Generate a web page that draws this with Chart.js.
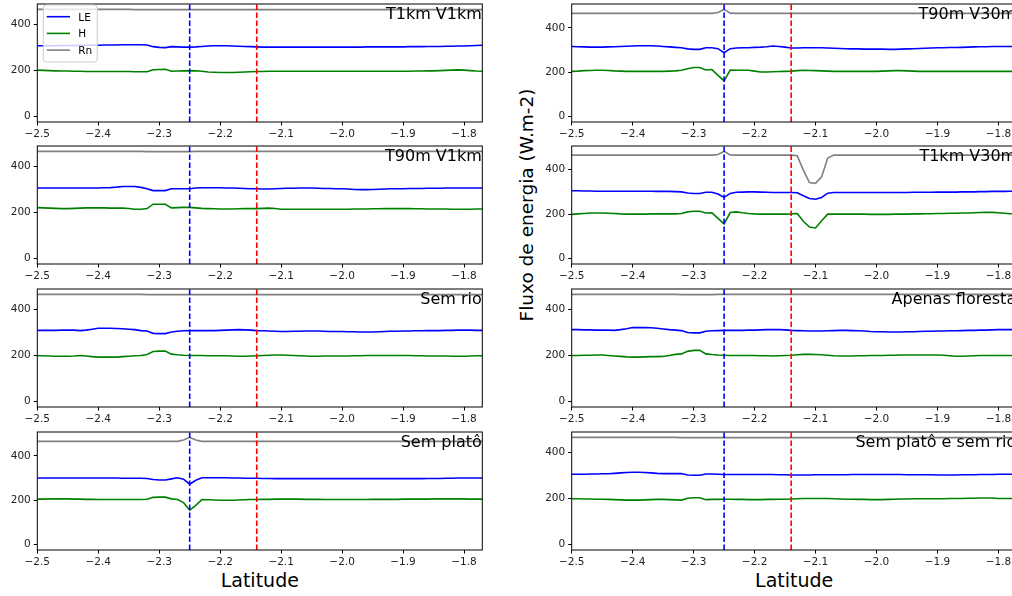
<!DOCTYPE html>
<html>
<head>
<meta charset="utf-8">
<script src="https://cdn.jsdelivr.net/npm/chart.js@4.4.1/dist/chart.umd.min.js"></script>
<style>
  html, body { margin: 0; padding: 0; background: #fff; overflow: hidden; }
  body { width: 1012px; height: 596px; position: relative; font-family: "DejaVu Sans", sans-serif; }
  canvas { position: absolute; }
  .lbl { position: absolute; color: #000; white-space: nowrap; font-size: 19px; line-height: 19px; }
</style>
</head>
<body>
<div class="lbl" style="left:259.8px; top:570.6px; transform:translateX(-50%);">Latitude</div>
<div class="lbl" style="left:794.2px; top:570.6px; transform:translateX(-50%);">Latitude</div>
<div class="lbl" style="left:527px; top:205px; font-size:18.5px; line-height:18.5px; transform:translate(-50%,-50%) rotate(-90deg);">Fluxo de energia (W.m-2)</div>
<script>
// latitude grid shared by every simulation
const latitudes = [
  -2.50,-2.49,-2.48,-2.47,-2.46,-2.45,-2.44,-2.43,-2.42,-2.41,
  -2.40,-2.39,-2.38,-2.37,-2.36,-2.35,-2.34,-2.33,-2.32,-2.31,
  -2.30,-2.29,-2.28,-2.27,-2.26,-2.25,-2.24,-2.23,-2.22,-2.21,
  -2.20,-2.19,-2.18,-2.17,-2.16,-2.15,-2.14,-2.13,-2.12,-2.11,
  -2.10,-2.09,-2.08,-2.07,-2.06,-2.05,-2.04,-2.03,-2.02,-2.01,
  -2.00,-1.99,-1.98,-1.97,-1.96,-1.95,-1.94,-1.93,-1.92,-1.91,
  -1.90,-1.89,-1.88,-1.87,-1.86,-1.85,-1.84,-1.83,-1.82,-1.81,
  -1.80,-1.79,-1.78,-1.77];
const xTicks = [-2.5, -2.4, -2.3, -2.2, -2.1, -2.0, -1.9, -1.8];
const yTicks = [0, 200, 400];
const xMin = -2.5, xMax = -1.77;

const seriesNames = ['LE', 'H', 'Rn'];
const seriesColors = ['#0000ff', '#008000', '#808080'];
// river (blue) and plateau edge (red)
const markerLats = [-2.25, -2.14];
const markerColors = ['#0000ff', '#ff0000'];

// T1km V1km
const t1kmV1kmLE = [
  308,308,308,308,309,309,309,310,310,310,
  310,311,311,311,312,312,312,312,311,304,
  301,300,304,303,302,302,303,305,307,308,
  308,308,307,306,305,304,303,302,302,302,
  302,302,302,302,302,302,302,302,302,302,
  302,302,302,302,303,303,303,303,303,303,
  303,304,304,304,305,305,305,306,306,307,
  307,308,309,310];
const t1kmV1kmH = [
  202,201,200,199,198,198,197,197,196,196,
  196,196,196,196,196,196,195,195,195,204,
  205,206,197,198,199,200,199,197,194,193,
  192,192,192,193,194,195,196,196,197,197,
  197,197,197,197,197,197,197,197,197,197,
  197,197,197,197,197,197,197,197,197,197,
  197,197,198,198,199,199,200,201,202,203,
  202,200,198,197];
const t1kmV1kmRn = [
  466,466,466,466,466,466,466,466,466,466,
  466,466,466,466,466,466,465,465,465,465,
  465,465,465,465,465,465,465,465,465,465,
  465,465,465,465,465,465,465,465,465,465,
  465,465,465,465,465,465,465,465,465,465,
  465,465,465,465,465,465,465,465,465,465,
  465,465,465,465,465,465,465,465,465,465,
  465,465,465,465];

// T90m V1km
const t90mV1kmLE = [
  306,306,306,306,306,306,306,306,306,306,
  306,307,308,310,313,313,313,309,303,295,
  295,295,303,303,303,303,306,307,307,307,
  307,306,306,305,304,303,303,302,302,303,
  304,305,305,306,306,306,305,304,304,303,
  303,302,300,299,299,300,301,302,303,303,
  303,304,304,304,305,305,305,306,306,306,
  306,306,306,306];
const t90mV1kmH = [
  221,220,219,218,217,217,218,219,220,220,
  220,220,219,219,219,217,214,214,217,236,
  236,236,220,221,222,222,220,218,217,216,
  215,215,215,216,217,217,217,218,219,217,
  214,214,214,214,214,214,214,214,214,214,
  214,214,215,215,215,216,216,217,217,217,
  217,217,216,216,215,215,215,215,214,214,
  214,214,215,215];
const t90mV1kmRn = [
  465,465,465,465,465,465,465,465,465,465,
  465,465,465,465,465,465,465,465,464,464,
  464,464,464,464,464,464,465,465,465,465,
  465,465,465,465,465,465,465,465,465,465,
  465,465,465,465,465,465,465,465,465,465,
  465,465,465,465,465,465,465,465,465,465,
  465,465,465,465,465,465,465,465,465,465,
  465,465,465,465];

// Sem rio
const semRioLE = [
  309,309,309,309,310,310,310,308,310,314,
  318,318,318,317,316,314,312,308,306,296,
  295,295,302,305,307,308,308,308,308,308,
  309,310,311,312,311,310,308,307,306,305,
  304,304,305,305,306,306,306,305,304,304,
  304,303,303,302,302,302,303,304,305,305,
  306,306,307,307,308,308,308,309,309,310,
  310,310,309,309];
const semRioH = [
  199,199,198,197,197,197,198,200,198,195,
  193,193,193,193,195,197,199,200,204,217,
  219,219,206,203,201,200,200,200,199,199,
  199,199,198,197,197,198,199,200,201,202,
  202,201,200,199,198,197,197,198,198,198,
  198,198,199,199,200,200,200,200,200,200,
  200,200,199,199,198,198,198,198,197,197,
  197,198,199,199];
const semRioRn = [
  465,465,465,465,465,465,465,465,465,465,
  465,465,465,465,465,465,465,465,464,464,
  464,464,464,464,464,464,464,464,464,464,
  464,464,464,464,464,464,464,464,464,464,
  464,464,464,464,464,464,464,464,464,464,
  464,464,464,464,464,464,464,464,464,464,
  464,464,464,464,464,464,464,464,464,464,
  464,464,464,464];

// Sem platô
const semPlatoLE = [
  300,300,300,300,300,300,300,300,300,300,
  300,300,300,300,299,299,299,299,298,293,
  291,291,296,301,295,272,290,301,301,301,
  301,301,300,300,299,299,299,298,298,297,
  297,297,297,297,297,297,297,297,297,297,
  297,297,297,297,297,297,297,297,297,297,
  297,297,297,297,298,298,298,299,299,300,
  300,300,300,300];
const semPlatoH = [
  205,205,206,206,206,206,205,205,204,204,
  203,203,203,203,203,203,203,203,204,213,
  214,214,206,203,189,155,177,203,202,201,
  200,200,200,201,202,203,203,204,204,205,
  205,205,205,205,204,204,204,203,203,203,
  203,203,203,203,203,204,204,204,204,204,
  205,205,205,205,205,206,206,206,206,206,
  206,205,205,205];
const semPlatoRn = [
  465,465,465,465,465,465,465,465,465,465,
  465,465,465,465,465,465,465,465,465,465,
  465,465,465,465,471,483,471,465,465,465,
  465,465,465,465,465,465,465,465,465,465,
  465,465,465,465,465,465,465,465,465,465,
  465,465,465,465,465,465,465,465,465,465,
  465,465,465,465,465,465,465,465,465,465,
  465,465,465,465];

// T90m V30m
const t90mV30mLE = [
  316,315,314,313,313,313,314,315,316,317,
  318,319,319,319,318,316,314,312,310,305,
  303,303,310,310,306,288,306,309,310,310,
  312,313,315,318,316,313,309,309,310,310,
  310,310,309,308,307,306,305,305,304,304,
  304,304,303,303,304,305,306,307,308,309,
  310,310,311,311,312,313,314,315,315,316,
  316,316,316,316];
const t90mV30mH = [
  204,205,207,208,209,209,208,206,205,204,
  204,204,204,204,204,204,205,206,209,216,
  221,221,210,212,186,161,210,209,209,209,
  205,201,201,202,203,204,205,207,209,208,
  207,206,205,204,204,204,204,204,204,204,
  204,205,206,207,207,206,205,204,204,204,
  204,204,204,204,204,204,204,204,204,204,
  204,204,204,204];
const t90mV30mRn = [
  465,465,465,465,465,465,465,465,465,465,
  465,465,465,465,465,465,465,465,465,465,
  465,465,465,465,469,483,466,465,465,465,
  465,465,465,465,465,465,465,465,465,465,
  465,465,465,465,465,465,465,465,465,465,
  465,465,465,465,465,465,465,465,465,465,
  465,465,465,465,465,465,465,465,465,465,
  465,465,465,465];

// T1km V30m
const t1kmV30mLE = [
  305,305,304,304,303,303,303,303,303,303,
  303,303,303,303,302,302,302,301,300,295,
  293,293,298,298,290,275,293,298,299,300,
  300,299,298,297,297,297,297,296,283,270,
  267,275,294,297,297,297,297,297,297,297,
  297,297,297,297,297,297,298,298,298,298,
  299,299,299,299,300,300,300,301,301,302,
  302,302,303,303];
const t1kmV30mH = [
  199,201,203,205,205,205,204,203,201,200,
  200,200,200,201,201,201,201,201,203,210,
  213,213,205,206,181,156,207,210,206,203,
  201,200,200,200,200,200,201,203,168,142,
  138,170,200,200,200,200,200,200,200,199,
  199,199,199,200,200,200,201,201,202,202,
  203,203,204,204,205,205,206,207,208,208,
  206,204,202,201];
const t1kmV30mRn = [
  465,465,465,465,465,465,465,465,465,465,
  465,465,465,465,465,465,465,465,465,465,
  465,465,465,465,468,482,466,465,465,465,
  465,465,465,465,465,465,465,462,398,342,
  338,368,452,465,465,465,465,465,465,465,
  465,465,465,465,465,465,465,465,465,465,
  465,465,465,465,465,465,465,465,465,465,
  465,465,465,465];

// Apenas floresta
const florestaLE = [
  312,312,311,311,310,310,310,309,312,316,
  321,321,321,320,318,315,312,310,308,300,
  298,298,305,307,308,309,309,309,309,310,
  310,311,312,313,312,311,309,308,307,306,
  306,306,307,308,309,309,308,307,306,304,
  303,303,302,302,302,303,303,304,305,305,
  306,306,307,307,308,309,309,310,310,311,
  312,312,312,312];
const florestaH = [
  200,200,201,201,202,202,200,198,196,194,
  193,193,194,195,195,196,200,205,207,218,
  222,222,207,204,202,201,200,200,200,200,
  200,199,199,198,199,200,201,203,205,205,
  204,203,201,199,198,198,198,199,199,200,
  200,200,201,201,202,202,202,202,202,202,
  202,201,199,197,197,198,199,200,200,200,
  200,200,200,200];
const florestaRn = [
  465,465,465,465,465,465,465,465,465,465,
  465,465,465,465,465,465,465,465,464,464,
  464,464,464,464,465,465,465,465,465,465,
  465,465,465,465,465,465,465,465,465,465,
  465,465,465,465,465,465,465,465,465,465,
  465,465,465,465,465,465,465,465,465,465,
  465,465,465,465,465,465,465,465,465,465,
  465,465,465,465];

// Sem platô e sem rio
const semAmbosLE = [
  305,305,305,306,306,307,307,309,311,313,
  314,314,313,311,309,308,308,308,308,302,
  301,301,306,306,305,304,304,304,304,304,
  304,304,304,304,303,303,302,302,302,302,
  303,303,303,303,303,303,304,304,304,304,
  304,304,304,304,304,303,303,303,303,303,
  302,302,302,302,303,303,303,304,304,304,
  305,305,305,305];
const semAmbosH = [
  199,199,198,198,197,197,196,195,194,193,
  193,193,194,195,196,196,195,194,193,201,
  203,203,195,196,196,197,197,196,196,195,
  195,195,196,196,197,197,198,199,200,200,
  200,200,200,199,198,197,197,196,196,195,
  195,195,196,197,198,198,199,199,199,199,
  199,199,200,200,200,201,201,202,202,202,
  200,200,200,200];
const semAmbosRn = [
  465,465,465,465,465,465,465,465,465,465,
  465,465,465,465,465,465,465,465,464,464,
  464,464,464,464,464,464,464,464,464,464,
  464,464,464,464,464,464,464,464,464,464,
  464,464,464,464,464,464,464,464,464,464,
  464,464,464,464,464,464,464,464,464,464,
  464,464,464,464,464,464,464,464,464,464,
  464,464,464,464];

// left column top to bottom, then right column
const panels = [
  { caption: 'T1km V1km', le: t1kmV1kmLE, h: t1kmV1kmH, rn: t1kmV1kmRn },
  { caption: 'T90m V1km', le: t90mV1kmLE, h: t90mV1kmH, rn: t90mV1kmRn },
  { caption: 'Sem rio', le: semRioLE, h: semRioH, rn: semRioRn },
  { caption: 'Sem platô', le: semPlatoLE, h: semPlatoH, rn: semPlatoRn },
  { caption: 'T90m V30m', le: t90mV30mLE, h: t90mV30mH, rn: t90mV30mRn },
  { caption: 'T1km V30m', le: t1kmV30mLE, h: t1kmV30mH, rn: t1kmV30mRn },
  { caption: 'Apenas floresta', le: florestaLE, h: florestaH, rn: florestaRn },
  { caption: 'Sem platô e sem rio', le: semAmbosLE, h: semAmbosH, rn: semAmbosRn }
];

// subplot grid
const colLeft = [0, 532];
const yAxisW = [37.3, 39.7];
const padRight = [7.7, 5.3];
const rowTop = [4, 146, 289, 432];
const canvasW = 490, canvasH = 146, padTop = 4, plotH = 118;
const tickFont = { family: 'DejaVu Sans', size: 10.5 };

const fmtLat = v => v.toFixed(1).replace('-', '\u2212');

const panelDecor = {
  id: 'panelDecor',
  afterDatasetsDraw(chart, args, opts) {
    const { ctx, chartArea: a, scales: { x } } = chart;
    ctx.save();
    ctx.beginPath();
    ctx.rect(a.left, a.top, a.right - a.left, a.bottom - a.top);
    ctx.clip();
    ctx.lineWidth = 1.6;
    ctx.setLineDash([5.5, 2.5]);
    markerLats.forEach((lat, i) => {
      const px = x.getPixelForValue(lat);
      ctx.strokeStyle = markerColors[i];
      ctx.beginPath();
      ctx.moveTo(px, a.bottom);
      ctx.lineTo(px, a.top);
      ctx.stroke();
    });
    ctx.restore();

    // axes frame
    ctx.save();
    ctx.strokeStyle = '#000';
    ctx.lineWidth = 1;
    ctx.strokeRect(a.left, a.top, a.right - a.left, a.bottom - a.top);
    ctx.restore();

    // simulation name, top right
    ctx.save();
    ctx.font = '16px "DejaVu Sans"';
    ctx.fillStyle = '#000';
    ctx.textAlign = 'right';
    ctx.textBaseline = 'alphabetic';
    ctx.fillText(opts.caption, a.right - 0.5, a.top + 14.5);
    ctx.restore();

    if (!opts.legend) return;
    ctx.save();
    const bx = a.left + 6, by = a.top + 1, bw = 54, bh = 57;
    ctx.fillStyle = 'rgba(255,255,255,0.8)';
    ctx.strokeStyle = '#cccccc';
    ctx.lineWidth = 1;
    ctx.beginPath();
    ctx.roundRect(bx, by, bw, bh, 3);
    ctx.fill();
    ctx.stroke();
    ctx.font = '10.5px "DejaVu Sans"';
    ctx.textBaseline = 'alphabetic';
    ctx.fillStyle = '#000';
    seriesNames.forEach((name, i) => {
      const ly = a.top + 12.7 + i * 16.7;
      ctx.strokeStyle = seriesColors[i];
      ctx.lineWidth = 1.6;
      ctx.beginPath();
      ctx.moveTo(a.left + 9.5, ly);
      ctx.lineTo(a.left + 32.7, ly);
      ctx.stroke();
      ctx.fillText(name, a.left + 41, ly + 4);
    });
    ctx.restore();
  }
};

panels.forEach((p, idx) => {
  const col = idx < 4 ? 0 : 1;
  const row = idx % 4;
  const canvas = document.createElement('canvas');
  canvas.width = canvasW;
  canvas.height = canvasH;
  canvas.style.left = colLeft[col] + 'px';
  canvas.style.top = (rowTop[row] - padTop) + 'px';
  document.body.appendChild(canvas);

  // zero-based y range with 5% margins, like the original autoscale
  const peak = Math.max(...p.rn);
  const series = [p.le, p.h, p.rn];

  new Chart(canvas, {
    type: 'line',
    data: {
      datasets: series.map((vals, k) => ({
        label: seriesNames[k],
        data: latitudes.map((lat, i) => ({ x: lat, y: vals[i] })),
        borderColor: seriesColors[k],
        borderWidth: 1.6,
        pointRadius: 0,
        fill: false,
        tension: 0
      }))
    },
    options: {
      responsive: false,
      animation: false,
      events: [],
      layout: { padding: { top: padTop, right: padRight[col], left: 0, bottom: 0 } },
      plugins: {
        legend: { display: false },
        tooltip: { enabled: false },
        panelDecor: { caption: p.caption, legend: idx === 0 }
      },
      scales: {
        x: {
          type: 'linear',
          min: xMin,
          max: xMax,
          afterFit(s) { s.height = canvasH - padTop - plotH; s.paddingLeft = 0; s.paddingRight = 0; },
          afterBuildTicks(s) { s.ticks = xTicks.map(v => ({ value: v })); },
          ticks: { callback: v => fmtLat(v), font: tickFont, color: '#222', padding: 2, maxRotation: 0, autoSkip: false },
          grid: { drawOnChartArea: false, drawTicks: true, tickLength: 3.5, color: '#000' },
          border: { display: false }
        },
        y: {
          min: -0.05 * peak,
          max: 1.05 * peak,
          afterFit(s) { s.width = yAxisW[col]; s.paddingTop = 0; s.paddingBottom = 0; },
          afterBuildTicks(s) { s.ticks = yTicks.map(v => ({ value: v })); },
          ticks: { callback: v => String(v), font: tickFont, color: '#222', padding: 3, autoSkip: false },
          grid: { drawOnChartArea: false, drawTicks: true, tickLength: 3.5, color: '#000' },
          border: { display: false }
        }
      }
    },
    plugins: [panelDecor]
  });
});
</script>
</body>
</html>
